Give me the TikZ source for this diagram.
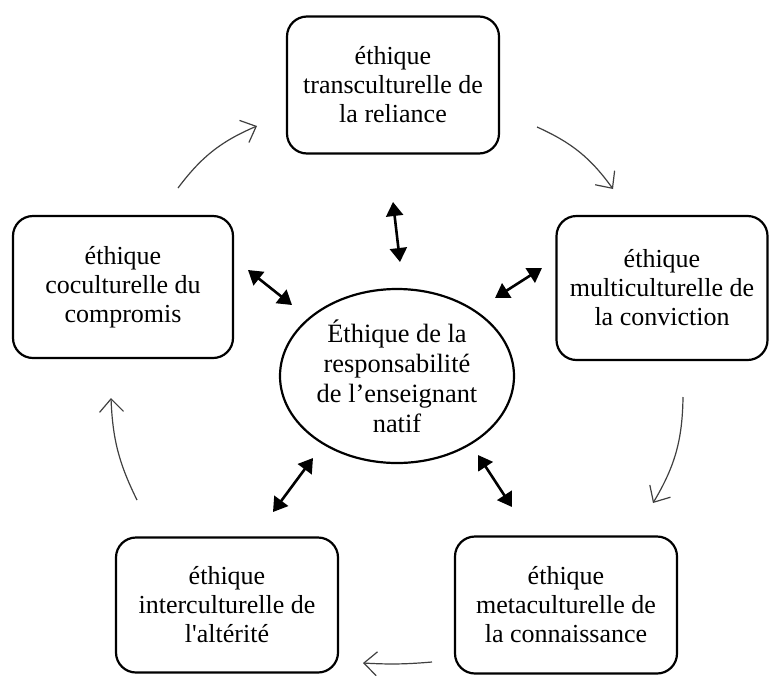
\documentclass[tikz,border=0pt]{standalone}
\usepackage{fontspec}
\setmainfont{Liberation Serif}
\usetikzlibrary{arrows.meta, shapes.geometric}

\begin{document}
\begin{tikzpicture}[
    x=0.5pt, y=-0.5pt,
    ethbox/.style={draw=black, rounded corners=10pt, line width=1.1pt, align=center, inner sep=0pt, font=\fontsize{13}{14.5}\selectfont},
    centernode/.style={ellipse, draw=black, line width=1.1pt, align=center, inner sep=0pt, minimum width=117pt, minimum height=87pt, font=\fontsize{13.2}{15}\selectfont},
    link/.style={{Triangle[length=7pt,width=8.5pt]}-{Triangle[length=7pt,width=8.5pt]}, line width=1.3pt},
    flow/.style={-{Straight Barb[length=6.5pt,width=12pt]}, draw=black!75, line width=0.6pt, bend left=15},
    ]
    \useasboundingbox (0,0) rectangle (770,675);

    % boxes round the centre
    \node[ethbox, minimum width=106pt, minimum height=68.5pt] (trans) at (393,85) {éthique\\transculturelle de\\la reliance};
    \node[ethbox, minimum width=105.5pt, minimum height=72pt] (multi) at (662,288) {éthique\\multiculturelle de\\la conviction};
    \node[ethbox, minimum width=110pt, minimum height=71pt] (co) at (123,287) {éthique\\coculturelle du\\compromis};
    \node[ethbox, minimum width=111pt, minimum height=67.5pt] (inter) at (227,605) {éthique\\interculturelle de\\l\textquotesingle altérité};
    \node[ethbox, minimum width=111pt, minimum height=68.5pt] (meta) at (566,605) {éthique\\metaculturelle de\\la connaissance};
    \node[centernode] (ell) at (397,376) {Éthique de la\\responsabilité\\de l’enseignant\\natif};

    % double arrows
    \coordinate (a1) at (400,262); \coordinate (b1) at (393,202);
    \coordinate (a2) at (292,305); \coordinate (b2) at (248,270);
    \coordinate (a3) at (495,298); \coordinate (b3) at (542,268);
    \coordinate (a4) at (313,458); \coordinate (b4) at (273,512);
    \coordinate (a5) at (478,455); \coordinate (b5) at (512,507);
    \foreach \i in {1,...,5}
        \draw[link] (a\i) -- (b\i);

    % thin arrows
    \coordinate (s1) at (178,188); \coordinate (e1) at (257,126);
    \coordinate (s2) at (537,127); \coordinate (e2) at (613,189);
    \coordinate (s3) at (683,397); \coordinate (e3) at (653,503);
    \coordinate (s4) at (432,662); \coordinate (e4) at (363,663);
    \coordinate (s5) at (137,500); \coordinate (e5) at (111,398);
    \draw[flow] (s1) to (e1);
    \draw[flow] (s2) to (e2);
    \draw[flow] (s3) to (e3);
    \draw[flow, bend left=4] (s4) to (e4);
    \draw[flow, bend left=12] (s5) to (e5);
\end{tikzpicture}
\end{document}
